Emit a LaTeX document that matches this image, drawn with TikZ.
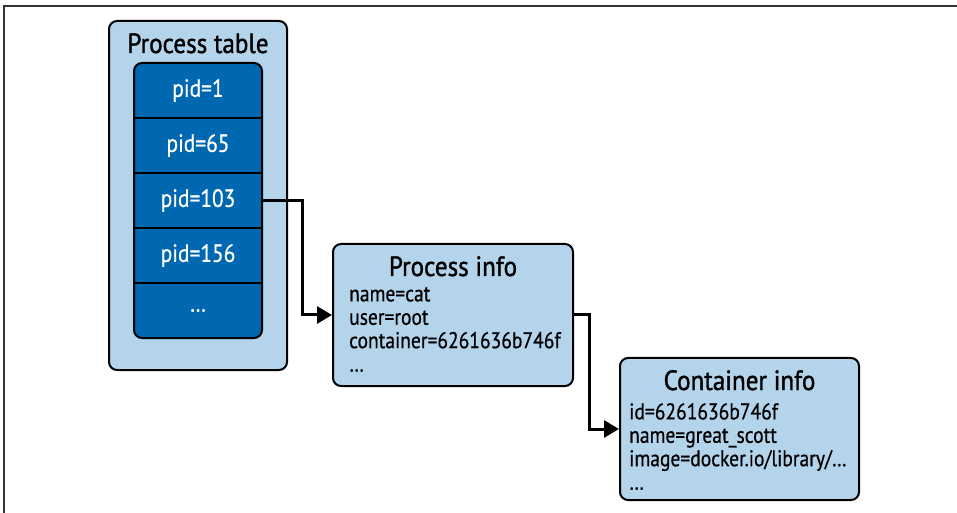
\documentclass[tikz,border=0pt]{standalone}
\usepackage{fontspec}
\setmainfont{PT Sans}[FakeStretch=0.86, FakeBold=0.6]
\newfontfamily\titlefont{PT Sans}[FakeStretch=0.9, FakeBold=1.2]
\usetikzlibrary{arrows.meta,positioning}
\definecolor{TblLight}{HTML}{B3D4EA}
\definecolor{TblDark}{HTML}{0067B1}

\tikzset{
  panel/.style={draw=black, line width=2bp, fill=TblLight, rounded corners=8bp, inner sep=0pt},
  cell/.style={minimum width=128bp, minimum height=55bp, inner sep=0pt, text=white,
    font=\fontsize{25}{26}\selectfont},
  boxtitle/.style={inner sep=0pt, anchor=base, font=\titlefont\fontsize{28}{30}\selectfont},
  infotext/.style={inner sep=0pt, align=left, anchor=north west,
    font=\fontsize{22.8}{23.5}\selectfont},
  link/.style={line width=3bp, -{Triangle[length=15bp,width=17bp]}}
}

\begin{document}
\begin{tikzpicture}[x=1bp,y=-1bp]
  \useasboundingbox (0,0) rectangle (957,513);
  \draw[line width=2bp, black!80] (957,6.5) -- (4,6.5) -- (4,513);

  % process table with its pid cells
  \node[panel, minimum width=178bp, minimum height=349bp] (ptable) at (198,195.5) {};
  \node[boxtitle] (ptitle) at (198,53) {Process table};
  \node[panel, fill=TblDark, minimum width=128bp, minimum height=275bp] (cells) at (198,200.5) {};
  \foreach \pid [count=\i] in {pid=1,pid=65,pid=103,pid=156,\ldots}
    \node[cell] (c\i) at (198,{35.5+55*\i}) {\pid};
  \foreach \i in {1,...,4}
    \draw[line width=2bp] (c\i.south west) -- (c\i.south east);

  % process info
  \node[panel, minimum width=240bp, minimum height=142bp] (pinfo) at (453,315) {};
  \node[boxtitle] (pititle) at (453,276) {Process info};
  \node[infotext] (pitext) at (349,287) {name=cat\\user=root\\container=6261636b746f\\\ldots};

  % container info
  \node[panel, minimum width=239bp, minimum height=142bp] (cinfo) at (739.5,429) {};
  \node[boxtitle] (cititle) at (739.5,390) {Container info};
  \node[infotext] (citext) at (629,403) {id=6261636b746f\\name=great\_scott\\image=docker.io/library/\ldots\\\ldots};

  \draw[link] (c3.east) -- ++(40,0) |- (pinfo.west);
  \draw[link] (pinfo.east) -- ++(15,0) |- (cinfo.west);
\end{tikzpicture}
\end{document}
